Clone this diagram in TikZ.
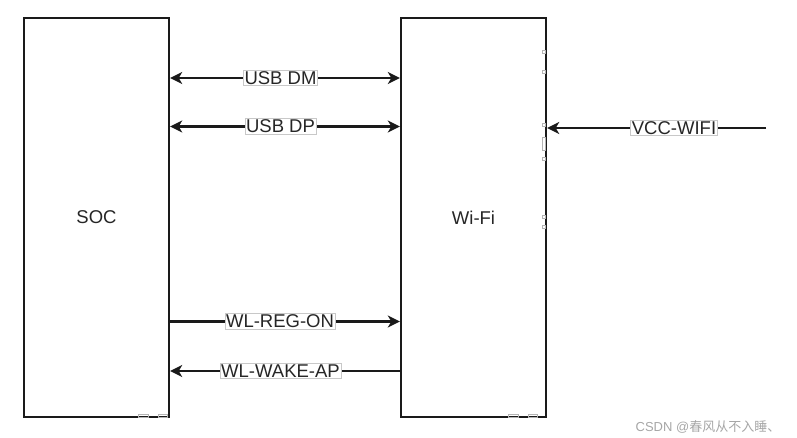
\documentclass[tikz,border=0pt]{standalone}
\usepackage{fontspec}
\setmainfont{Liberation Sans}
\newfontfamily\cjk{Noto Sans CJK SC}
\usetikzlibrary{arrows.meta}
\definecolor{linec}{HTML}{1A1A1A}
\definecolor{lblc}{HTML}{C8C8C8}
\definecolor{pinc}{HTML}{B4B4B4}
\begin{document}
\begin{tikzpicture}[x=1pt,y=-1pt,
  blk/.style={draw=linec, line width=2.4pt, minimum width=145pt, minimum height=399pt, inner sep=0pt, font=\fontsize{18.5}{20}\selectfont, text=black!85},
  sig/.style={draw=linec, line width=2.4pt},
  tipend/.style={-{Stealth[length=12pt,width=12pt,inset=3.5pt]}},
  tipboth/.style={{Stealth[length=12pt,width=12pt,inset=3.5pt]}-{Stealth[length=12pt,width=12pt,inset=3.5pt]}},
  tipstart/.style={{Stealth[length=12pt,width=12pt,inset=3.5pt]}-},
  lbl/.style={fill=white, draw=lblc, line width=0.6pt, inner sep=1.2pt, font=\fontsize{18.5}{20}\selectfont, text=black!85},
  pinmark/.style={draw=pinc, line width=0.5pt}
]
\useasboundingbox (0,0) rectangle (797,438);

\node[blk] (soc) at (96.5,217.5) {SOC};
\node[blk] (wifi) at (473.5,217.5) {Wi-Fi};

% small connection marks
\draw[pinmark] (542,50.5) rectangle (545,53.5);
\draw[pinmark] (542,70.5) rectangle (545,73.5);
\draw[pinmark] (542,123.5) rectangle (545,126.5);
\draw[pinmark] (542,137) rectangle (545,150);
\draw[pinmark] (542,157) rectangle (545,160);
\draw[pinmark] (542,215.5) rectangle (545,218.5);
\draw[pinmark] (542,225) rectangle (545,228);
\draw[pinmark] (138,414) rectangle (148,417);
\draw[pinmark] (158,414) rectangle (167,417);
\draw[pinmark] (508,414) rectangle (518,417);
\draw[pinmark] (528,414) rectangle (537,417);

% signals
\draw[sig, tipboth] (soc.east |- 0,78) -- (wifi.west |- 0,78);
\node[lbl] (dm) at (280.5,78) {USB DM};

\draw[sig, tipboth] (soc.east |- 0,126.5) -- (wifi.west |- 0,126.5);
\node[lbl] (dp) at (280.5,126.5) {USB DP};

\draw[sig, tipend] (soc.east |- 0,321.5) -- (wifi.west |- 0,321.5);
\node[lbl] (reg) at (280,321.5) {WL-REG-ON};

\draw[sig, tipstart] (soc.east |- 0,371) -- (wifi.west |- 0,371);
\node[lbl] (wake) at (280.5,371) {WL-WAKE-AP};

\coordinate (vccin) at (766,128);
\draw[sig, tipend] (vccin) -- (wifi.east |- vccin);
\node[lbl] (vcc) at (674,128) {VCC-WIFI};

\node[text=black!35, font=\fontsize{13}{14}\selectfont, inner sep=0pt] (wm) at (708,427) {CSDN @{\cjk 春风从不入睡、}};
\end{tikzpicture}
\end{document}
